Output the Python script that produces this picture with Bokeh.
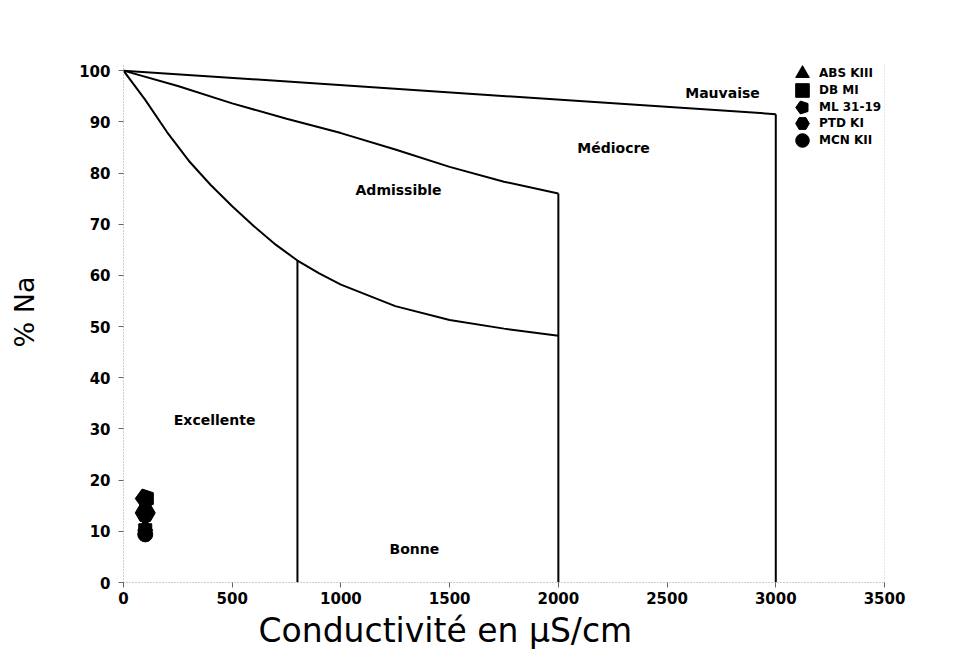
import math
from bokeh.plotting import figure
from bokeh.models import Range1d, Span, Legend, LegendItem, FixedTicker, Label, Title
from bokeh.embed import file_html
from bokeh.resources import INLINE

# ---- data ----
# boundary curves of the Wilcox-type diagram
top_x = [0, 3000]
top_y = [100, 91.5]
mid_x = [0, 250, 500, 750, 1000, 1250, 1500, 1750, 2000]
mid_y = [100, 97.0, 93.6, 90.6, 87.8, 84.6, 81.2, 78.3, 76.0]
low_x = [0, 100, 200, 300, 400, 500, 600, 700, 800, 900, 1000, 1250, 1500, 1750, 2000]
low_y = [100, 94.3, 88.0, 82.4, 77.7, 73.5, 69.6, 66.0, 62.9, 60.4, 58.2, 54.0, 51.3, 49.6, 48.2]
vert_x = [800, 2000, 3000]
vert_top = [62.9, 76.0, 91.5]

# zone labels
zone_names = ["Mauvaise", "Médiocre", "Admissible", "Excellente", "Bonne"]
zone_x = [2755, 2254, 1265, 419, 1338]
zone_y = [95.7, 84.8, 76.6, 31.8, 6.6]

# samples
sample_names = ["ABS KIII", "DB MI", "ML 31-19", "PTD KI", "MCN KII"]
sample_cond = [100, 100, 100, 100, 100]
sample_na = [11.0, 10.2, 16.4, 13.6, 9.4]

x_ticks = [0, 500, 1000, 1500, 2000, 2500, 3000, 3500]
y_ticks = [0, 10, 20, 30, 40, 50, 60, 70, 80, 90, 100]

FONT = "DejaVu Sans"

p = figure(width=960, height=658, output_backend="svg", toolbar_location=None,
           x_range=Range1d(0, 3500), y_range=Range1d(0, 101.2),
           min_border_left=123, min_border_right=76, min_border_top=64, min_border_bottom=76)
p.outline_line_color = None
p.xgrid.visible = False
p.ygrid.visible = False
p.background_fill_color = "white"
p.border_fill_color = "white"

for ax, ticks in ((p.xaxis, x_ticks), (p.yaxis, y_ticks)):
    ax.ticker = FixedTicker(ticks=ticks)
    ax.axis_line_color = "#9a9a9a"
    ax.axis_line_dash = "1 2"
    ax.major_tick_line_color = "#666666"
    ax.major_tick_out = 5
    ax.major_tick_in = 0
    ax.minor_tick_line_color = None
    ax.major_label_text_font = FONT
    ax.major_label_text_font_style = "bold"
    ax.major_label_text_font_size = "15px"
    ax.major_label_text_color = "black"
p.xaxis.major_label_standoff = 4
p.yaxis.major_label_standoff = 8

p.add_layout(Span(location=3500, dimension="height", line_color="#9a9a9a",
                  line_dash="1 2", line_width=1))

# boundaries
p.line(top_x, top_y, line_color="black", line_width=2)
p.line(mid_x, mid_y, line_color="black", line_width=2)
p.line(low_x, low_y, line_color="black", line_width=2)
p.segment(x0=vert_x, y0=[0] * len(vert_x), x1=vert_x, y1=vert_top,
          line_color="black", line_width=2)

# zone labels
for name, zx, zy in zip(zone_names, zone_x, zone_y):
    p.add_layout(Label(x=zx, y=zy, text=name, text_font=FONT,
                       text_font_style="bold", text_font_size="14px",
                       text_align="center", text_baseline="middle", text_color="black"))

# samples
r_tri = p.scatter([sample_cond[0]], [sample_na[0]], marker="triangle", size=15,
                  fill_color="black", line_color="black")
r_sq = p.scatter([sample_cond[1]], [sample_na[1]], marker="square", size=13,
                 fill_color="black", line_color="black")
try:
    r_pent = p.ngon(x=[sample_cond[2]], y=[sample_na[2]], radius=10, radius_units="screen",
                    n=5, angle=math.pi / 2, fill_color="black", line_color="black")
except Exception:
    r_pent = p.scatter([sample_cond[2]], [sample_na[2]], marker="hex", size=18,
                       fill_color="black", line_color="black")
r_hex = p.scatter([sample_cond[3]], [sample_na[3]], marker="hex", size=20,
                  fill_color="black", line_color="black")
r_circ = p.scatter([sample_cond[4]], [sample_na[4]], marker="circle", size=15,
                   fill_color="black", line_color="black")

# legend: one single-row legend per sample, stacked (large glyphs with tight rows)
renderers = [r_tri, r_sq, r_pent, r_hex, r_circ]
first_row_center = 73.0   # px from top of canvas
row_step = 16.75
frame_bottom = 582.0
for i, (n, r) in enumerate(zip(sample_names, renderers)):
    yc = first_row_center + row_step * i
    lg = Legend(items=[LegendItem(label=n, renderers=[r])],
                location=(662, round(frame_bottom - (yc + 17))))
    lg.border_line_color = None
    lg.background_fill_alpha = 0
    lg.padding = 0
    lg.margin = 0
    lg.spacing = 0
    lg.glyph_width = 34
    lg.glyph_height = 34
    lg.label_height = 34
    lg.label_standoff = 0
    lg.label_text_font = FONT
    lg.label_text_font_style = "bold"
    lg.label_text_font_size = "12px"
    lg.label_text_color = "black"
    p.add_layout(lg)

# axis titles
xt = Title(text="Conductivité en µS/cm", align="left", offset=135, text_font=FONT,
           text_font_size="33px", text_font_style="normal", text_color="black")
spacer = Title(text=" ", text_font_size="1px", text_color="white")
yt = Title(text="% Na", align="left", offset=235, vertical_align="top", text_font=FONT,
           text_font_size="27px", text_font_style="normal", text_color="black")
try:
    xt.standoff = 5
    spacer.standoff = 24
    yt.standoff = 16
except Exception:
    pass
p.add_layout(xt, "below")
p.add_layout(spacer, "left")
p.add_layout(yt, "left")

open("out.html", "w").write(file_html(p, INLINE))
